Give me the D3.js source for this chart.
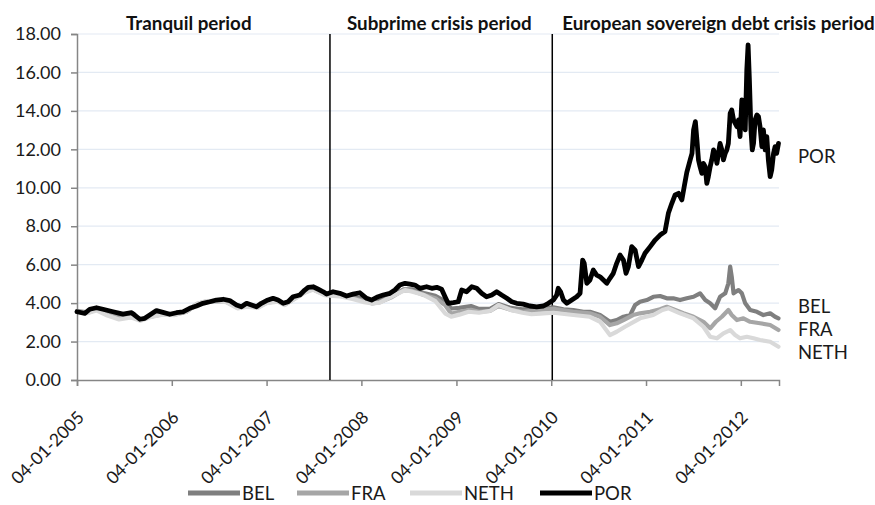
<!DOCTYPE html>
<html><head><meta charset="utf-8">
<script src="https://cdn.jsdelivr.net/npm/d3@7"></script>
<style>
html,body{margin:0;padding:0;background:#fff;}
svg{display:block;font-family:Lato, "Open Sans", sans-serif;}
</style></head>
<body><svg id="c" width="875" height="505"></svg>
<script>
// ---------------- DATA ----------------
const seriesNames = ["BEL", "FRA", "NETH", "POR"];
const yTickValues = [0, 2, 4, 6, 8, 10, 12, 14, 16, 18];
const xTickDates = ["2005-01-04","2006-01-04","2007-01-04","2008-01-04","2009-01-04","2010-01-04","2011-01-04","2012-01-04"];
const periodLabels = ["Tranquil period", "Subprime crisis period", "European sovereign debt crisis period"];
const periodBreaks = ["2007-09-05", "2010-01-08"];
const dateRange = ["2005-01-04", "2012-05-30"];

const POR = [
["2005-01-04",3.55],["2005-02-03",3.47],["2005-02-22",3.68],["2005-03-20",3.76],["2005-04-14",3.68],["2005-05-23",3.55],
["2005-06-30",3.43],["2005-08-02",3.50],["2005-08-14",3.38],["2005-09-03",3.16],["2005-09-22",3.21],["2005-10-11",3.38],
["2005-11-06",3.61],["2005-12-01",3.52],["2005-12-27",3.42],["2006-01-22",3.50],["2006-02-16",3.55],["2006-03-14",3.73],
["2006-04-09",3.85],["2006-05-04",3.99],["2006-05-30",4.07],["2006-06-25",4.16],["2006-07-21",4.20],["2006-08-15",4.13],
["2006-09-10",3.90],["2006-09-29",3.81],["2006-10-19",3.99],["2006-11-07",3.90],["2006-11-26",3.81],["2006-12-15",3.99],
["2007-01-04",4.13],["2007-01-29",4.25],["2007-02-17",4.16],["2007-03-09",3.99],["2007-03-28",4.07],["2007-04-16",4.33],
["2007-05-12",4.42],["2007-05-31",4.68],["2007-06-13",4.82],["2007-07-02",4.85],["2007-07-22",4.72],["2007-08-10",4.59],
["2007-08-23",4.47],["2007-09-17",4.59],["2007-10-13",4.51],["2007-11-08",4.37],["2007-12-03",4.47],["2007-12-29",4.54],
["2008-01-24",4.25],["2008-02-12",4.16],["2008-03-03",4.30],["2008-03-28",4.42],["2008-04-23",4.51],["2008-05-12",4.68],
["2008-05-31",4.94],["2008-06-20",5.03],["2008-07-09",4.99],["2008-07-28",4.94],["2008-08-16",4.77],["2008-09-11",4.85],
["2008-10-01",4.77],["2008-10-20",4.82],["2008-11-08",4.72],["2008-11-21",4.33],["2008-12-03",3.99],["2008-12-23",4.02],
["2009-01-11",4.07],["2009-01-24",4.68],["2009-02-12",4.59],["2009-03-04",4.85],["2009-03-23",4.77],["2009-04-11",4.51],
["2009-04-30",4.33],["2009-05-20",4.42],["2009-06-08",4.59],["2009-06-27",4.42],["2009-07-17",4.25],["2009-08-05",4.07],
["2009-08-24",3.99],["2009-09-18",3.95],["2009-10-14",3.85],["2009-11-09",3.81],["2009-12-05",3.85],["2009-12-24",3.99],
["2010-01-12",4.16],["2010-01-25",4.42],["2010-01-31",4.77],["2010-02-09",4.59],["2010-02-20",4.16],["2010-03-05",3.99],
["2010-03-24",4.16],["2010-04-12",4.33],["2010-04-25",4.51],["2010-05-05",6.24],["2010-05-11",6.07],["2010-05-21",5.03],
["2010-06-02",5.20],["2010-06-15",5.72],["2010-06-28",5.46],["2010-07-11",5.37],["2010-07-24",5.20],["2010-08-06",5.03],
["2010-08-18",5.29],["2010-08-31",5.55],["2010-09-13",6.07],["2010-09-26",6.50],["2010-10-09",6.24],["2010-10-19",5.55],
["2010-10-28",5.90],["2010-11-10",6.94],["2010-11-23",6.76],["2010-12-06",5.90],["2010-12-19",6.24],["2010-12-31",6.59],
["2011-01-20",6.94],["2011-02-08",7.28],["2011-02-27",7.54],["2011-03-18",7.72],["2011-03-31",8.67],["2011-04-13",9.18],
["2011-04-26",9.63],["2011-05-09",9.71],["2011-05-22",9.37],["2011-05-31",10.06],["2011-06-10",10.80],["2011-06-23",11.45],
["2011-06-30",11.79],["2011-07-06",13.00],["2011-07-13",13.44],["2011-07-19",12.49],["2011-07-25",11.45],["2011-07-31",11.10],
["2011-08-07",10.75],["2011-08-13",11.27],["2011-08-20",11.10],["2011-08-26",10.23],["2011-09-01",10.58],["2011-09-08",11.10],
["2011-09-14",11.45],["2011-09-21",11.97],["2011-09-27",11.79],["2011-10-04",11.27],["2011-10-10",11.79],["2011-10-16",12.31],
["2011-10-23",11.97],["2011-10-29",11.45],["2011-11-05",11.79],["2011-11-11",11.97],["2011-11-17",12.31],["2011-11-24",13.88],
["2011-11-30",14.05],["2011-12-07",13.53],["2011-12-13",13.36],["2011-12-20",13.18],["2011-12-26",13.53],["2012-01-01",12.66],
["2012-01-08",14.57],["2012-01-14",13.53],["2012-01-21",13.01],["2012-01-27",16.13],["2012-02-01",17.43],["2012-02-06",15.61],
["2012-02-12",13.01],["2012-02-17",11.97],["2012-02-22",12.31],["2012-02-28",13.53],["2012-03-06",13.79],["2012-03-12",13.70],
["2012-03-18",13.18],["2012-03-25",12.14],["2012-03-31",13.01],["2012-04-07",11.97],["2012-04-13",12.66],["2012-04-19",11.45],
["2012-04-26",10.58],["2012-05-02",10.93],["2012-05-09",11.79],["2012-05-15",12.14],["2012-05-21",11.79],["2012-05-28",12.31]
];

const BEL = [
["2005-01-04",3.58],["2005-02-15",3.52],["2005-03-20",3.70],["2005-05-01",3.45],["2005-06-15",3.28],["2005-08-01",3.32],
["2005-09-05",3.12],["2005-10-15",3.33],["2005-12-01",3.45],["2006-01-15",3.42],["2006-03-01",3.55],["2006-04-09",3.92],
["2006-05-15",4.05],["2006-06-25",4.12],["2006-08-01",4.10],["2006-09-15",3.78],["2006-10-20",3.88],["2006-12-01",3.80],
["2007-01-04",4.05],["2007-02-15",4.12],["2007-03-15",3.95],["2007-04-20",4.25],["2007-06-01",4.60],["2007-07-01",4.75],
["2007-08-15",4.50],["2007-09-15",4.45],["2007-10-15",4.42],["2007-12-01",4.33],["2008-01-15",4.22],["2008-02-15",4.05],
["2008-03-15",4.12],["2008-05-01",4.38],["2008-06-15",4.72],["2008-07-15",4.72],["2008-09-01",4.52],["2008-10-15",4.38],
["2008-11-21",4.10],["2008-12-15",3.72],["2009-01-15",3.75],["2009-03-01",3.85],["2009-04-01",3.70],["2009-05-15",3.72],
["2009-06-15",3.95],["2009-08-01",3.75],["2009-09-15",3.68],["2009-11-22",3.73],["2010-01-12",3.78],["2010-02-20",3.68],
["2010-03-30",3.64],["2010-05-08",3.55],["2010-06-02",3.55],["2010-07-11",3.38],["2010-08-18",3.03],["2010-09-13",3.12],
["2010-10-09",3.29],["2010-11-04",3.38],["2010-11-23",3.90],["2010-12-12",4.07],["2011-01-07",4.16],["2011-02-01",4.33],
["2011-02-27",4.37],["2011-03-25",4.25],["2011-04-19",4.25],["2011-05-15",4.16],["2011-06-10",4.25],["2011-07-06",4.33],
["2011-07-31",4.51],["2011-08-20",4.16],["2011-09-08",3.99],["2011-09-27",3.73],["2011-10-16",4.33],["2011-11-05",4.51],
["2011-11-17",5.03],["2011-11-24",5.90],["2011-11-30",5.37],["2011-12-07",4.51],["2011-12-26",4.68],["2012-01-08",4.51],
["2012-01-21",3.99],["2012-02-09",3.64],["2012-03-06",3.55],["2012-03-31",3.38],["2012-04-26",3.47],["2012-05-15",3.29],
["2012-05-28",3.21]
];

const FRA = [
["2005-01-04",3.56],["2005-02-15",3.50],["2005-03-20",3.66],["2005-05-01",3.40],["2005-06-15",3.22],["2005-08-01",3.28],
["2005-09-05",3.12],["2005-10-15",3.30],["2005-12-01",3.42],["2006-01-15",3.40],["2006-03-01",3.55],["2006-04-09",3.95],
["2006-05-15",4.08],["2006-06-25",4.12],["2006-08-01",4.08],["2006-09-15",3.75],["2006-10-20",3.85],["2006-12-01",3.78],
["2007-01-04",4.02],["2007-02-15",4.10],["2007-03-15",3.92],["2007-04-20",4.22],["2007-06-01",4.58],["2007-07-01",4.72],
["2007-08-15",4.45],["2007-09-15",4.40],["2007-10-15",4.38],["2007-12-01",4.25],["2008-01-15",4.12],["2008-02-15",3.98],
["2008-03-15",4.05],["2008-05-01",4.32],["2008-06-15",4.68],["2008-07-15",4.65],["2008-09-01",4.42],["2008-10-15",4.25],
["2008-11-21",3.90],["2008-12-15",3.45],["2009-01-15",3.55],["2009-03-01",3.65],["2009-04-01",3.55],["2009-05-15",3.60],
["2009-06-15",3.85],["2009-08-01",3.65],["2009-09-15",3.55],["2009-11-22",3.64],["2010-01-12",3.70],["2010-03-30",3.55],
["2010-06-02",3.47],["2010-07-11",3.29],["2010-08-18",2.86],["2010-09-13",2.95],["2010-10-09",3.12],["2010-11-15",3.38],
["2010-12-12",3.47],["2011-01-20",3.55],["2011-02-27",3.68],["2011-03-25",3.81],["2011-04-19",3.68],["2011-05-28",3.47],
["2011-07-06",3.29],["2011-08-13",3.03],["2011-09-08",2.69],["2011-09-30",3.03],["2011-10-23",3.29],["2011-11-17",3.64],
["2011-11-30",3.38],["2011-12-20",3.12],["2012-01-14",3.21],["2012-02-09",3.03],["2012-03-18",2.95],["2012-04-26",2.86],
["2012-05-28",2.60]
];

const NETH = [
["2005-01-04",3.55],["2005-02-15",3.48],["2005-03-20",3.62],["2005-05-01",3.35],["2005-06-15",3.15],["2005-08-01",3.25],
["2005-09-05",3.08],["2005-10-15",3.28],["2005-12-01",3.40],["2006-01-15",3.38],["2006-03-01",3.55],["2006-04-09",3.95],
["2006-05-15",4.10],["2006-06-25",4.12],["2006-08-01",4.05],["2006-09-15",3.72],["2006-10-20",3.82],["2006-12-01",3.75],
["2007-01-04",4.00],["2007-02-15",4.08],["2007-03-15",3.90],["2007-04-20",4.20],["2007-06-01",4.55],["2007-07-01",4.70],
["2007-08-15",4.42],["2007-09-15",4.38],["2007-10-15",4.35],["2007-12-01",4.22],["2008-01-15",4.05],["2008-02-15",3.99],
["2008-03-15",4.02],["2008-05-01",4.35],["2008-06-20",4.68],["2008-07-15",4.60],["2008-09-01",4.42],["2008-10-15",4.10],
["2008-11-21",3.47],["2008-12-15",3.29],["2009-01-15",3.40],["2009-02-20",3.55],["2009-04-01",3.50],["2009-05-15",3.60],
["2009-06-15",3.90],["2009-08-01",3.65],["2009-09-15",3.50],["2009-10-20",3.42],["2009-11-22",3.45],["2010-01-12",3.50],
["2010-03-30",3.38],["2010-06-02",3.29],["2010-07-11",3.03],["2010-08-18",2.34],["2010-09-13",2.51],["2010-10-15",2.77],
["2010-12-12",3.21],["2011-02-01",3.38],["2011-03-08",3.64],["2011-04-01",3.73],["2011-05-15",3.47],["2011-07-06",3.21],
["2011-08-13",2.77],["2011-09-08",2.25],["2011-10-04",2.17],["2011-10-29",2.43],["2011-11-24",2.60],["2011-12-13",2.34],
["2012-01-01",2.17],["2012-01-27",2.25],["2012-02-22",2.17],["2012-03-18",2.08],["2012-04-26",1.99],["2012-05-28",1.73]
];

const seriesData = { BEL: BEL, FRA: FRA, NETH: NETH, POR: POR };

// ---------------- STYLE ----------------
const colors = { BEL: "#7f7f7f", FRA: "#a6a6a6", NETH: "#d9d9d9", POR: "#000000" };
const parse = d3.timeParse("%Y-%m-%d");
const fmtDate = d3.timeFormat("%d-%m-%Y");

const svg = d3.select("#c");
const x = d3.scaleTime().domain(dateRange.map(parse)).range([77, 779]);
const y = d3.scaleLinear().domain([0, 18]).range([380, 34]);

// grid
svg.append("g").selectAll("line").data(yTickValues.filter(v => v > 0)).join("line")
  .attr("x1", 78).attr("x2", 779).attr("y1", d => y(d)).attr("y2", d => y(d))
  .attr("stroke", "#e3eaf3").attr("stroke-width", 1.2);

// axes
const yAxis = d3.axisLeft(y).tickValues(yTickValues).tickFormat(d3.format(".2f")).tickSize(6).tickPadding(10);
const gy = svg.append("g").attr("transform", "translate(77,0)").call(yAxis);
gy.select(".domain").attr("stroke", "#868686").attr("stroke-width", 1.5);
gy.selectAll(".tick line").attr("stroke", "#868686").attr("stroke-width", 1.5);
gy.selectAll("text").attr("font-size", 18).attr("fill", "#1a1a1a").attr("font-family", "Lato");

const xAxis = d3.axisBottom(x).tickValues(xTickDates.map(parse)).tickFormat(fmtDate).tickSize(6);
const gx = svg.append("g").attr("transform", "translate(0,380)").call(xAxis);
gx.select(".domain").attr("stroke", "#868686").attr("stroke-width", 1.5);
gx.selectAll(".tick line").attr("stroke", "#868686").attr("stroke-width", 1.5);
gx.selectAll("text").attr("font-size", 17.5).attr("fill", "#1a1a1a").attr("font-family", "Lato")
  .attr("text-anchor", "end").attr("dy", "0.35em")
  .attr("transform", "translate(-3,28) rotate(-45)");

// period separators
svg.append("g").selectAll("line").data(periodBreaks).join("line")
  .attr("x1", d => x(parse(d))).attr("x2", d => x(parse(d)))
  .attr("y1", 34).attr("y2", 380).attr("stroke", "#000").attr("stroke-width", 1.5);

// period labels
const labelX = [x(parse(dateRange[0])) + 49, x(parse(periodBreaks[0])) + 17, x(parse(periodBreaks[1])) + 10];
svg.append("g").selectAll("text").data(periodLabels).join("text")
  .attr("x", (d, i) => labelX[i]).attr("y", 30)
  .attr("font-size", 18.8).attr("font-weight", "bold").attr("fill", "#111").attr("font-family", "Lato")
  .text(d => d);

// lines
const line = d3.line().x(d => x(parse(d[0]))).y(d => y(d[1])).curve(d3.curveLinear);
svg.append("g").selectAll("path").data(seriesNames).join("path")
  .attr("d", n => line(seriesData[n]))
  .attr("fill", "none").attr("stroke", n => colors[n]).attr("stroke-width", n => n === "POR" ? 4.8 : 4.2)
  .attr("stroke-linejoin", "round").attr("stroke-linecap", "round");

// right-side labels
const endLabelY = { POR: 157, BEL: 307, FRA: 330, NETH: 353 };
svg.append("g").selectAll("text").data(seriesNames).join("text")
  .attr("x", 798).attr("y", n => endLabelY[n]).attr("dy", "0.35em")
  .attr("font-size", 18.5).attr("fill", "#1a1a1a").attr("font-family", "Lato")
  .text(n => n);

// legend
const legendX = { BEL: 188, FRA: 297, NETH: 410, POR: 540 };
const lg = svg.append("g").selectAll("g").data(seriesNames).join("g")
  .attr("transform", n => `translate(${legendX[n]},493)`);
lg.append("line").attr("x1", 0).attr("x2", 52).attr("y1", 0).attr("y2", 0)
  .attr("stroke", n => colors[n]).attr("stroke-width", 5);
lg.append("text").attr("x", 54).attr("dy", "0.36em")
  .attr("font-size", 18.5).attr("fill", "#1a1a1a").attr("font-family", "Lato").text(n => n);
</script></body></html>
